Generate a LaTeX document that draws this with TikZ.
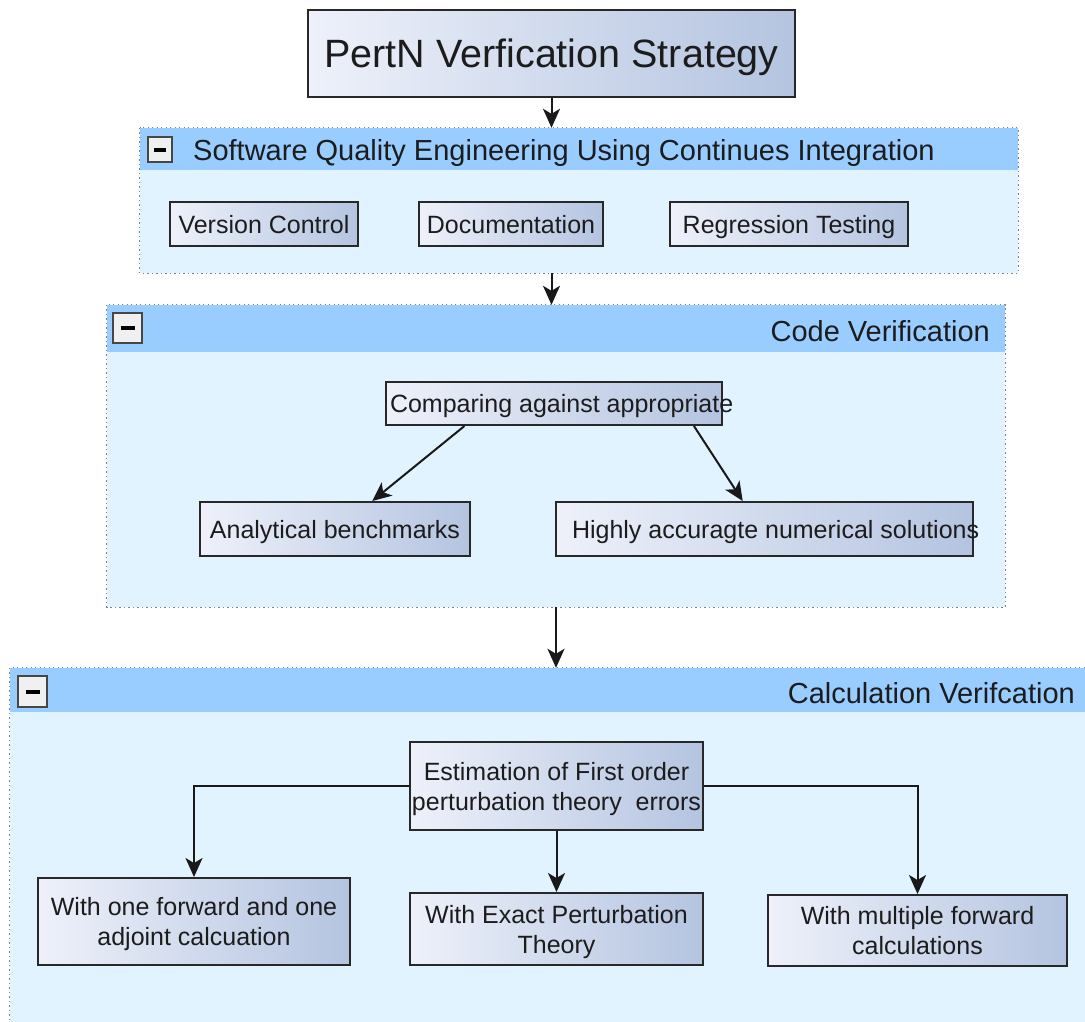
\documentclass[tikz,border=0pt]{standalone}
\usepackage{fontspec}
\setmainfont{Liberation Sans}
\usetikzlibrary{arrows.meta,calc}
\definecolor{hdr}{RGB}{153,204,255}
\definecolor{body}{RGB}{225,243,255}
\definecolor{boxL}{RGB}{238,241,250}
\definecolor{boxR}{RGB}{180,196,224}
\definecolor{edge}{RGB}{40,40,40}
\definecolor{ink}{RGB}{28,28,28}
\definecolor{dotc}{RGB}{120,130,145}

\begin{document}
\begin{tikzpicture}[x=1pt,y=-1pt,
  box/.style={draw=edge, line width=2pt, left color=boxL, right color=boxR,
    inner sep=0pt, text=ink, text depth=0pt, font=\fontsize{25}{30}\selectfont, align=center},
  groupfill/.style={fill=body, inner sep=0pt},
  groupedge/.style={draw=dotc, line width=1.3pt, dash pattern=on 1.3pt off 3.2pt},
  band/.style={fill=hdr, inner sep=0pt},
  hdrtext/.style={font=\fontsize{29}{34}\selectfont, text=ink, inner sep=0pt},
  btn/.style={draw=gray!55!black, line width=1.5pt, fill=gray!12, inner sep=0pt},
  arr/.style={draw=black!90, line width=2pt, -{Stealth[length=19pt,width=17pt,inset=5pt]}},
]
\useasboundingbox (0,0) rectangle (1085,1021);
\clip (0,0) rectangle (1085,1021);
\fill[white] (0,0) rectangle (1085,1021);

% title
\node[box, minimum width=487, minimum height=87, font=\fontsize{39.5}{46}\selectfont]
  (title) at (551.5,53.5) {PertN Verfication Strategy};

% group 1: software quality engineering
\node[groupfill, minimum width=878, minimum height=145] (g1) at (579,200.5) {};
\node[band, minimum width=878, minimum height=42, anchor=north] (g1h) at (g1.north) {};
\node[btn, minimum width=24, minimum height=25] (g1b) at (160,149.5) {\rule{12pt}{4pt}};
\node[hdrtext, anchor=base west] (g1t) at (193,160) {Software Quality Engineering Using Continues Integration};
\draw[groupedge] (g1.north west) rectangle (g1.south east);

\node[box, minimum width=188, minimum height=44] (vc) at (264,224) {Version Control};
\node[box, minimum width=184, minimum height=44] (doc) at (511,224) {Documentation};
\node[box, minimum width=238, minimum height=44] (rt) at (789,224) {Regression Testing};

% group 2: code verification
\node[groupfill, minimum width=898, minimum height=302] (g2) at (556,456) {};
\node[band, minimum width=898, minimum height=47, anchor=north] (g2h) at (g2.north) {};
\node[btn, minimum width=29, minimum height=30] (g2b) at (127.5,328) {\rule{14pt}{4pt}};
\node[hdrtext, anchor=base east] (g2t) at (990,341) {Code Verification};
\draw[groupedge] (g2.north west) rectangle (g2.south east);

\node[box, minimum width=336, minimum height=43, inner xsep=4pt] (cmp) at (554,403.5)
  {\makebox[328pt][l]{Comparing against appropriate}};
\node[box, minimum width=270, minimum height=54] (ana) at (335,529) {Analytical benchmarks};
\node[box, minimum width=417, minimum height=54, inner xsep=16pt] (num) at (764.5,529)
  {\makebox[385pt][l]{Highly accuragte numerical solutions}};

\draw[arr] ($(cmp.south west)!0.235!(cmp.south east)$) -- ($(ana.north west)!0.637!(ana.north east)$);
\draw[arr] ($(cmp.south west)!0.914!(cmp.south east)$) -- ($(num.north west)!0.448!(num.north east)$);

% group 3: calculation verification
\node[groupfill, minimum width=1090, minimum height=367] (g3) at (555,851.5) {};
\node[band, minimum width=1090, minimum height=44, anchor=north] (g3h) at (g3.north) {};
\node[btn, minimum width=29, minimum height=31] (g3b) at (32.5,691.5) {\rule{14pt}{4pt}};
\node[hdrtext, anchor=base east] (g3t) at (1075,703) {Calculation Verifcation};
\draw[groupedge] (g3.north west) rectangle (g3.south east);

\node[box, minimum width=293, minimum height=88] (est) at (556.5,786)
  {Estimation of First order\\perturbation theory~ errors};
\node[box, minimum width=312, minimum height=87] (lb) at (194,921.5)
  {With one forward and one\\adjoint calcuation};
\node[box, minimum width=293, minimum height=72] (mb) at (556.5,929)
  {With Exact Perturbation\\Theory};
\node[box, minimum width=299, minimum height=71] (rb) at (917.5,930.5)
  {With multiple forward\\calculations};

\draw[arr] (est.west) -| (lb.north);
\draw[arr] (est.east) -| (rb.north);
\draw[arr] (est.south) -- (mb.north);

% flow between the stages
\draw[arr] (title.south) -- (title.south |- g1.north);
\draw[arr] (title.south |- g1.south) -- (title.south |- g2.north);
\draw[arr] (g2.south) -- (g2.south |- g3.north);
\end{tikzpicture}
\end{document}
